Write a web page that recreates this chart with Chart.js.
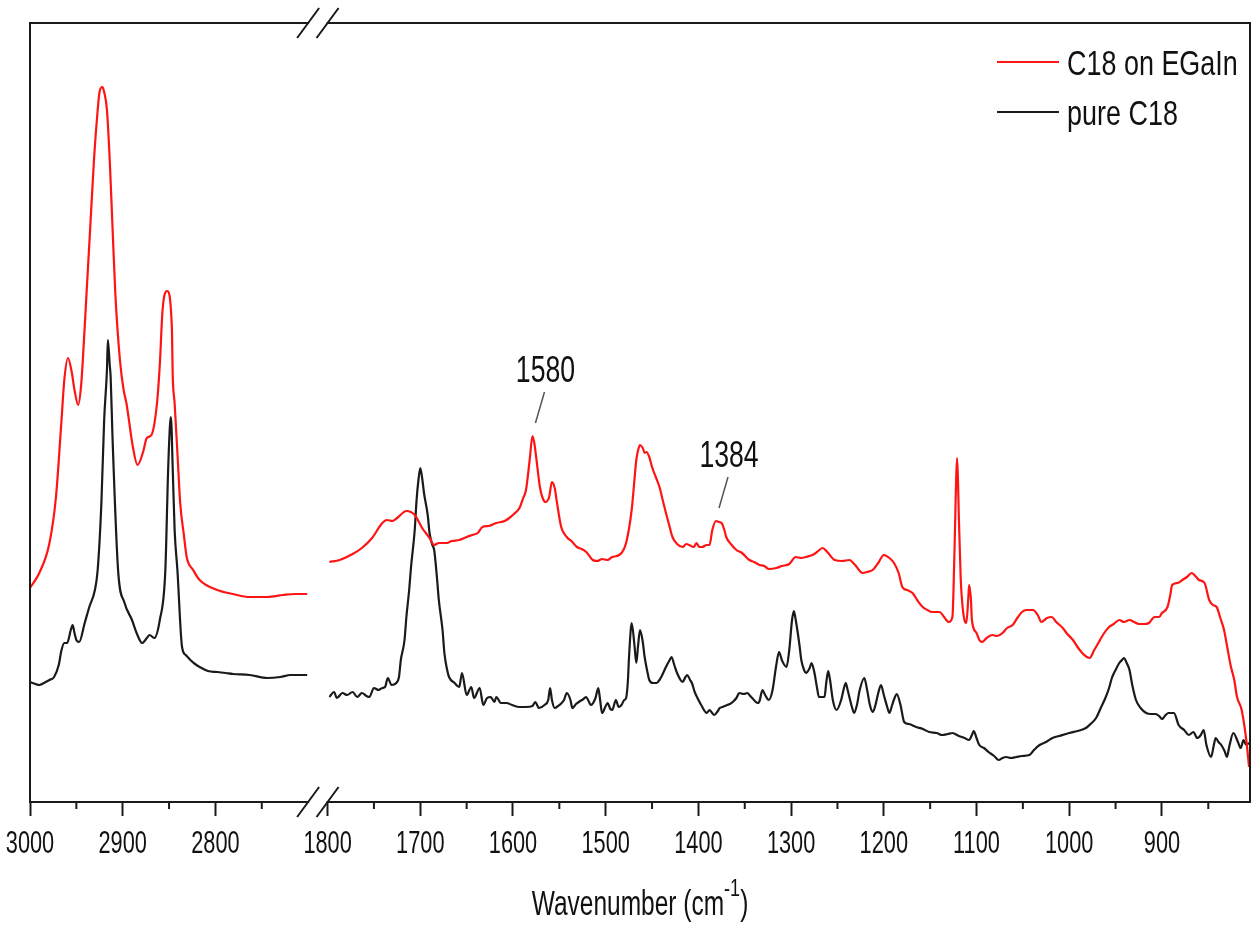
<!DOCTYPE html>
<html>
<head>
<meta charset="utf-8">
<script src="https://cdn.jsdelivr.net/npm/chart.js@4.4.1/dist/chart.umd.min.js"></script>
<style>
  html, body { margin: 0; padding: 0; background: #fff; }
</style>
</head>
<body>
<canvas id="chart" width="1260" height="936"></canvas>
<script>
const FONT = '"Liberation Sans", Arial, sans-serif'

// broken wavenumber axis: 3000..2700 | break | 1800..805
const LEFT_START = 3000, LEFT_END = 2700
const RIGHT_START = 1800, RIGHT_END = 805
const GAP = 21
const MAJOR_TICKS = [3000, 2900, 2800, 1800, 1700, 1600, 1500, 1400, 1300, 1200, 1100, 1000, 900]
const MINOR_TICKS = [2950, 2850, 2750, 1750, 1650, 1550, 1450, 1350, 1250, 1150, 1050, 950, 850]

// C18 on EGaIn (red)
const egainLeftWn = [3000, 2990, 2979, 2972, 2966, 2963, 2959, 2955, 2952, 2948, 2945, 2943, 2939, 2935, 2931, 2927, 2925, 2922, 2920, 2917, 2914, 2911, 2908, 2903, 2899, 2896, 2889, 2884, 2878, 2874, 2869, 2863, 2860, 2857, 2852, 2847, 2846, 2844, 2840, 2838, 2834, 2831, 2824, 2817, 2798, 2781, 2763, 2744, 2727, 2714, 2701]
const egainLeftAbs = [21.4, 22.9, 25.9, 30.5, 38.2, 42.2, 44.4, 43.0, 41.2, 39.7, 41.5, 44.2, 50.9, 57.5, 64.2, 69.2, 71.0, 71.5, 71.0, 69.2, 64.2, 57.5, 50.9, 44.2, 41.2, 39.9, 35.5, 33.7, 35.0, 36.4, 36.7, 39.9, 43.7, 49.2, 51.1, 47.5, 42.5, 39.9, 33.2, 29.9, 26.7, 24.5, 23.2, 22.2, 21.2, 20.8, 20.5, 20.5, 20.7, 20.8, 20.8]
const egainRightWn = [1798, 1787, 1773, 1763, 1752, 1741, 1736, 1730, 1725, 1715, 1706, 1698, 1690, 1685, 1680, 1672, 1666, 1658, 1650, 1644, 1638, 1633, 1626, 1618, 1609, 1604, 1599, 1593, 1589, 1586, 1582, 1579, 1577, 1575, 1571, 1568, 1565, 1561, 1558, 1555, 1553, 1548, 1542, 1537, 1531, 1526, 1521, 1514, 1509, 1504, 1498, 1493, 1488, 1483, 1478, 1472, 1469, 1467, 1465, 1463, 1460, 1458, 1456, 1453, 1450, 1446, 1442, 1438, 1435, 1431, 1428, 1423, 1417, 1413, 1410, 1405, 1402, 1399, 1396, 1391, 1388, 1385, 1381, 1378, 1375, 1372, 1370, 1365, 1359, 1353, 1345, 1340, 1334, 1329, 1324, 1316, 1310, 1302, 1295, 1289, 1284, 1277, 1272, 1266, 1261, 1253, 1245, 1237, 1231, 1223, 1218, 1212, 1206, 1200, 1194, 1189, 1184, 1180, 1175, 1169, 1164, 1158, 1153, 1148, 1140, 1135, 1130, 1126, 1124, 1123, 1122, 1121, 1120, 1119, 1117, 1115, 1113, 1111, 1109, 1108, 1106, 1105, 1100, 1097, 1094, 1089, 1083, 1078, 1072, 1067, 1061, 1056, 1051, 1046, 1039, 1034, 1030, 1024, 1019, 1014, 1007, 1002, 996, 991, 986, 981, 978, 973, 968, 963, 957, 952, 946, 941, 935, 930, 925, 919, 914, 908, 903, 900, 894, 891, 889, 883, 878, 873, 868, 864, 860, 854, 849, 845, 841, 837, 833, 829, 826, 822, 819, 814, 809, 806]
const egainRightAbs = [24.0, 24.2, 24.8, 25.4, 26.4, 27.9, 28.2, 28.1, 28.4, 29.1, 28.7, 27.4, 26.4, 25.7, 25.9, 25.9, 26.1, 26.2, 26.5, 26.7, 26.9, 27.5, 27.6, 27.9, 28.1, 28.4, 28.8, 29.4, 30.4, 31.2, 34.2, 36.6, 35.9, 34.5, 31.5, 30.4, 30.0, 30.5, 32.0, 31.4, 30.2, 27.5, 26.5, 26.1, 25.5, 25.3, 25.0, 24.2, 24.1, 24.3, 24.2, 24.5, 24.6, 24.9, 25.9, 29.2, 32.2, 34.2, 35.2, 35.7, 35.4, 34.9, 35.0, 34.5, 33.5, 32.5, 31.5, 30.0, 28.9, 27.5, 26.5, 25.8, 25.5, 25.8, 25.7, 25.5, 25.9, 25.5, 25.5, 25.7, 25.7, 27.2, 28.1, 28.0, 27.9, 27.2, 26.5, 25.8, 25.2, 24.9, 24.2, 24.0, 23.7, 23.6, 23.3, 23.4, 23.6, 23.8, 24.5, 24.4, 24.5, 24.7, 25.0, 25.4, 25.0, 24.2, 24.1, 24.2, 23.7, 22.9, 23.0, 23.2, 23.9, 24.7, 24.4, 23.9, 22.9, 21.5, 21.2, 20.9, 20.2, 19.5, 19.2, 19.0, 19.0, 18.5, 18.0, 18.5, 24.2, 28.2, 32.2, 34.4, 32.2, 28.2, 22.2, 19.5, 18.2, 17.9, 20.2, 21.7, 20.2, 18.2, 16.9, 16.2, 16.0, 16.4, 16.7, 16.6, 16.9, 17.4, 17.7, 18.4, 19.0, 19.2, 19.2, 18.7, 18.0, 18.4, 18.5, 18.0, 17.4, 16.8, 16.2, 15.5, 14.9, 14.5, 14.4, 15.2, 16.0, 16.8, 17.5, 17.8, 18.2, 18.0, 18.2, 18.0, 17.8, 17.8, 17.9, 18.5, 18.5, 18.9, 19.5, 20.7, 21.7, 21.9, 22.2, 22.5, 22.9, 22.6, 22.2, 21.9, 20.2, 19.7, 19.5, 18.4, 17.2, 15.2, 13.7, 12.2, 10.5, 9.2, 6.2, 3.5]

// pure C18 (black)
const pureLeftWn = [3000, 2994, 2990, 2985, 2979, 2974, 2969, 2966, 2963, 2960, 2956, 2954, 2952, 2950, 2947, 2941, 2936, 2930, 2927, 2923, 2920, 2917, 2916, 2914, 2913, 2911, 2905, 2898, 2890, 2885, 2879, 2874, 2871, 2866, 2860, 2854, 2851, 2849, 2848, 2846, 2844, 2841, 2836, 2832, 2827, 2822, 2817, 2808, 2798, 2789, 2781, 2763, 2744, 2730, 2719, 2701]
const pureLeftAbs = [12.0, 11.8, 11.7, 11.9, 12.2, 12.5, 13.7, 15.2, 15.9, 15.9, 17.2, 17.7, 16.9, 16.2, 16.0, 17.9, 19.5, 21.2, 23.2, 29.9, 38.2, 43.2, 46.2, 43.7, 42.5, 36.5, 23.2, 19.9, 18.2, 16.9, 15.9, 16.4, 16.7, 16.4, 18.2, 23.2, 33.2, 37.7, 38.5, 33.2, 27.2, 23.2, 15.5, 14.7, 14.2, 13.8, 13.5, 13.1, 13.0, 12.9, 12.8, 12.7, 12.4, 12.5, 12.7, 12.7]
const pureRightWn = [1798, 1793, 1790, 1784, 1779, 1773, 1768, 1763, 1758, 1755, 1750, 1745, 1741, 1738, 1735, 1731, 1726, 1723, 1721, 1717, 1715, 1712, 1710, 1706, 1704, 1702, 1700, 1698, 1696, 1692, 1690, 1687, 1685, 1682, 1680, 1676, 1674, 1671, 1669, 1663, 1658, 1655, 1650, 1645, 1642, 1636, 1632, 1628, 1624, 1620, 1618, 1613, 1607, 1601, 1593, 1586, 1579, 1576, 1572, 1566, 1562, 1560, 1558, 1555, 1550, 1545, 1542, 1538, 1536, 1532, 1529, 1524, 1521, 1518, 1516, 1511, 1508, 1506, 1504, 1500, 1498, 1495, 1493, 1489, 1486, 1483, 1480, 1478, 1476, 1475, 1473, 1472, 1469, 1467, 1465, 1463, 1460, 1458, 1455, 1453, 1449, 1445, 1442, 1439, 1435, 1431, 1429, 1426, 1423, 1417, 1414, 1412, 1409, 1407, 1404, 1401, 1397, 1391, 1388, 1386, 1383, 1379, 1377, 1374, 1369, 1366, 1363, 1359, 1356, 1351, 1347, 1345, 1342, 1336, 1334, 1331, 1328, 1324, 1320, 1316, 1313, 1310, 1305, 1302, 1299, 1297, 1295, 1291, 1289, 1286, 1284, 1280, 1278, 1275, 1272, 1270, 1264, 1262, 1260, 1258, 1255, 1251, 1246, 1243, 1241, 1239, 1235, 1232, 1229, 1226, 1221, 1218, 1215, 1212, 1209, 1206, 1203, 1200, 1196, 1194, 1191, 1188, 1186, 1182, 1178, 1173, 1165, 1158, 1151, 1143, 1137, 1131, 1126, 1119, 1113, 1108, 1105, 1103, 1100, 1097, 1092, 1087, 1081, 1076, 1072, 1068, 1063, 1057, 1051, 1043, 1038, 1032, 1025, 1018, 1011, 1000, 991, 982, 977, 971, 966, 961, 957, 954, 950, 946, 943, 941, 938, 935, 932, 928, 923, 917, 912, 907, 903, 900, 896, 893, 887, 882, 876, 871, 866, 862, 858, 855, 852, 847, 844, 842, 839, 836, 832, 830, 827, 823, 818, 815, 812, 809, 806]
const pureRightAbs = [10.5, 11.0, 10.4, 10.9, 10.7, 11.0, 10.5, 10.9, 10.6, 10.5, 11.4, 11.2, 11.4, 11.5, 12.4, 11.7, 11.9, 12.5, 14.2, 16.2, 18.5, 21.2, 23.5, 27.2, 30.2, 32.2, 33.4, 32.4, 30.9, 28.7, 26.9, 25.7, 25.2, 22.4, 20.2, 17.2, 14.9, 13.2, 12.5, 11.9, 11.5, 12.9, 10.7, 11.5, 10.4, 11.4, 9.7, 10.4, 10.5, 10.0, 10.5, 9.9, 9.9, 9.7, 9.5, 9.5, 9.6, 10.0, 9.4, 9.7, 10.2, 11.4, 10.2, 9.4, 9.7, 10.2, 10.9, 10.2, 9.4, 9.8, 10.0, 10.3, 10.5, 10.0, 9.7, 10.4, 11.4, 10.2, 8.9, 9.6, 9.9, 9.3, 9.2, 10.2, 9.5, 9.7, 10.2, 10.4, 12.2, 14.2, 17.2, 17.9, 15.7, 13.9, 15.7, 17.2, 16.0, 14.5, 13.0, 12.2, 11.9, 11.9, 12.2, 12.7, 13.5, 14.2, 14.5, 13.7, 12.9, 12.0, 12.5, 12.7, 12.2, 11.9, 11.0, 10.4, 9.7, 8.9, 9.2, 9.0, 8.7, 9.1, 9.4, 9.5, 9.7, 9.8, 10.0, 10.4, 10.9, 10.8, 10.9, 10.7, 10.4, 9.9, 10.1, 11.2, 10.7, 10.2, 11.2, 13.7, 15.0, 14.2, 13.5, 15.2, 18.2, 19.1, 18.2, 15.7, 14.2, 13.2, 12.9, 13.4, 13.9, 13.0, 11.4, 10.5, 10.5, 12.0, 13.1, 12.2, 10.2, 9.2, 10.2, 11.4, 11.9, 11.2, 9.7, 8.9, 9.7, 11.2, 12.4, 11.2, 9.7, 9.0, 9.7, 10.9, 11.7, 10.7, 9.4, 8.9, 9.7, 10.5, 10.8, 9.7, 8.0, 7.8, 7.5, 7.3, 7.0, 6.9, 6.7, 6.8, 6.9, 6.6, 6.4, 6.2, 6.7, 7.1, 6.4, 5.7, 5.4, 5.0, 4.6, 4.2, 4.4, 4.5, 4.4, 4.5, 4.6, 4.7, 5.2, 5.7, 6.0, 6.4, 6.6, 6.9, 7.1, 7.4, 7.8, 8.4, 9.4, 10.4, 11.4, 12.4, 13.2, 13.9, 14.2, 14.4, 13.9, 13.2, 11.7, 10.2, 9.4, 8.9, 8.8, 8.8, 8.6, 8.3, 8.7, 8.9, 8.9, 7.7, 7.2, 6.7, 7.0, 6.4, 6.7, 7.2, 5.7, 4.5, 5.7, 6.4, 6.0, 5.7, 5.0, 4.5, 5.7, 6.9, 6.0, 5.4, 6.2, 5.7, 5.9]

const PEAK_LABELS = [
  { text: '1580', wn: 1579, abs: 36.6 },
  { text: '1384', wn: 1381, abs: 28.1 },
]

// wavenumber -> position on the compressed axis
function pos(w){
  if (w >= LEFT_END) return LEFT_START - w
  return (LEFT_START - LEFT_END) + GAP + (RIGHT_START - w)
}
function series(lw, la, rw, ra){
  let pts = lw.map((w, i) => ({x: pos(w), y: la[i]}))
  pts.push({x: pos(LEFT_END) + GAP / 2, y: null}) // break the line over the axis gap
  return pts.concat(rw.map((w, i) => ({x: pos(w), y: ra[i]})))
}

const INK = '#1a1a1a'

// the original figure uses a condensed face; squeeze Liberation Sans horizontally
function narrowText(ctx, text, x, y, size, squeeze, align){
  ctx.save()
  ctx.font = size + 'px ' + FONT
  ctx.textAlign = align || 'left'
  ctx.textBaseline = 'alphabetic'
  ctx.translate(x, y)
  ctx.scale(squeeze, 1)
  ctx.fillText(text, 0, 0)
  ctx.restore()
}
function narrowWidth(ctx, text, size, squeeze){
  ctx.save()
  ctx.font = size + 'px ' + FONT
  const w = ctx.measureText(text).width * squeeze
  ctx.restore()
  return w
}

const brokenFrame = {
  id: 'brokenFrame',
  afterDraw(chart){
    const ctx = chart.ctx, a = chart.chartArea, xs = chart.scales.x, ys = chart.scales.y
    const xl = xs.getPixelForValue(pos(LEFT_END)),
          xr = xs.getPixelForValue(pos(RIGHT_START))
    ctx.save()
    ctx.strokeStyle = INK
    ctx.lineWidth = 2
    ctx.lineCap = 'square'
    ctx.beginPath()
    ctx.moveTo(a.left, a.top); ctx.lineTo(a.left, a.bottom)
    ctx.moveTo(a.right, a.top); ctx.lineTo(a.right, a.bottom)
    for (const y of [a.top, a.bottom]){
      ctx.moveTo(a.left, y); ctx.lineTo(xl, y)
      ctx.moveTo(xr, y); ctx.lineTo(a.right, y)
    }
    ctx.stroke()
    // break marks
    ctx.lineCap = 'butt'
    ctx.beginPath()
    for (const y of [a.top, a.bottom])
      for (const x of [xl, xr]){
        ctx.moveTo(x - 11, y + 15); ctx.lineTo(x + 11, y - 15)
      }
    ctx.stroke()
    // minor ticks
    ctx.beginPath()
    for (const w of MINOR_TICKS){
      const x = xs.getPixelForValue(pos(w))
      ctx.moveTo(x, a.bottom); ctx.lineTo(x, a.bottom + 7)
    }
    ctx.stroke()

    // tick labels
    ctx.fillStyle = '#111'
    for (const w of MAJOR_TICKS)
      narrowText(ctx, String(w), xs.getPixelForValue(pos(w)), a.bottom + 51, 32, 0.68, 'center')

    // peak labels
    ctx.strokeStyle = '#555'
    ctx.lineWidth = 1.5
    for (const p of PEAK_LABELS){
      const px = xs.getPixelForValue(pos(p.wn)), py = ys.getPixelForValue(p.abs)
      ctx.beginPath()
      ctx.moveTo(px + 3, py - 13); ctx.lineTo(px + 12, py - 44)
      ctx.stroke()
      narrowText(ctx, p.text, px + 13, py - 54, 37, 0.72, 'center')
    }

    // legend
    chart.data.datasets.forEach((ds, i) => {
      const y = a.top + 39 + i * 50
      ctx.strokeStyle = ds.borderColor
      ctx.lineWidth = 2
      ctx.beginPath()
      ctx.moveTo(a.right - 253, y); ctx.lineTo(a.right - 191, y)
      ctx.stroke()
      narrowText(ctx, ds.label, a.right - 183, y + 13, 35, 0.77, 'left')
    })

    // axis title with superscript
    const main = 'Wavenumber (cm', sup = '-1', close = ')'
    const w1 = narrowWidth(ctx, main, 35, 0.7),
          w2 = narrowWidth(ctx, sup, 24, 0.75),
          w3 = narrowWidth(ctx, close, 35, 0.7)
    let x = (a.left + a.right) / 2 - (w1 + w2 + w3) / 2
    const base = a.bottom + 113
    narrowText(ctx, main, x, base, 35, 0.7); x += w1
    narrowText(ctx, sup, x, base - 19, 24, 0.75); x += w2
    narrowText(ctx, close, x, base, 35, 0.7)
    ctx.restore()
  }
}

new Chart(document.getElementById('chart'), {
  type: 'line',
  data: {
    datasets: [
      {
        label: 'C18 on EGaIn',
        data: series(egainLeftWn, egainLeftAbs, egainRightWn, egainRightAbs),
        borderColor: '#ff1414',
        borderWidth: 2.2,
        pointRadius: 0,
        cubicInterpolationMode: 'monotone',
        spanGaps: false,
      },
      {
        label: 'pure C18',
        data: series(pureLeftWn, pureLeftAbs, pureRightWn, pureRightAbs),
        borderColor: INK,
        borderWidth: 2.2,
        pointRadius: 0,
        cubicInterpolationMode: 'monotone',
        spanGaps: false,
      },
    ]
  },
  options: {
    responsive: false,
    animation: false,
    layout: { padding: { left: 30, right: 10, top: 23, bottom: 120 } },
    plugins: { legend: { display: false }, tooltip: { enabled: false } },
    scales: {
      x: {
        type: 'linear',
        min: 0,
        max: pos(RIGHT_END),
        afterBuildTicks: s => { s.ticks = MAJOR_TICKS.map(w => ({ value: pos(w) })) },
        ticks: { display: false, autoSkip: false, maxRotation: 0 },
        grid: { display: true, drawOnChartArea: false, drawTicks: true, tickLength: 14, tickWidth: 2, tickColor: INK },
        border: { display: false },
      },
      y: { display: false, min: 0, max: 77.9 },
    },
  },
  plugins: [brokenFrame],
})
</script>
</body>
</html>
